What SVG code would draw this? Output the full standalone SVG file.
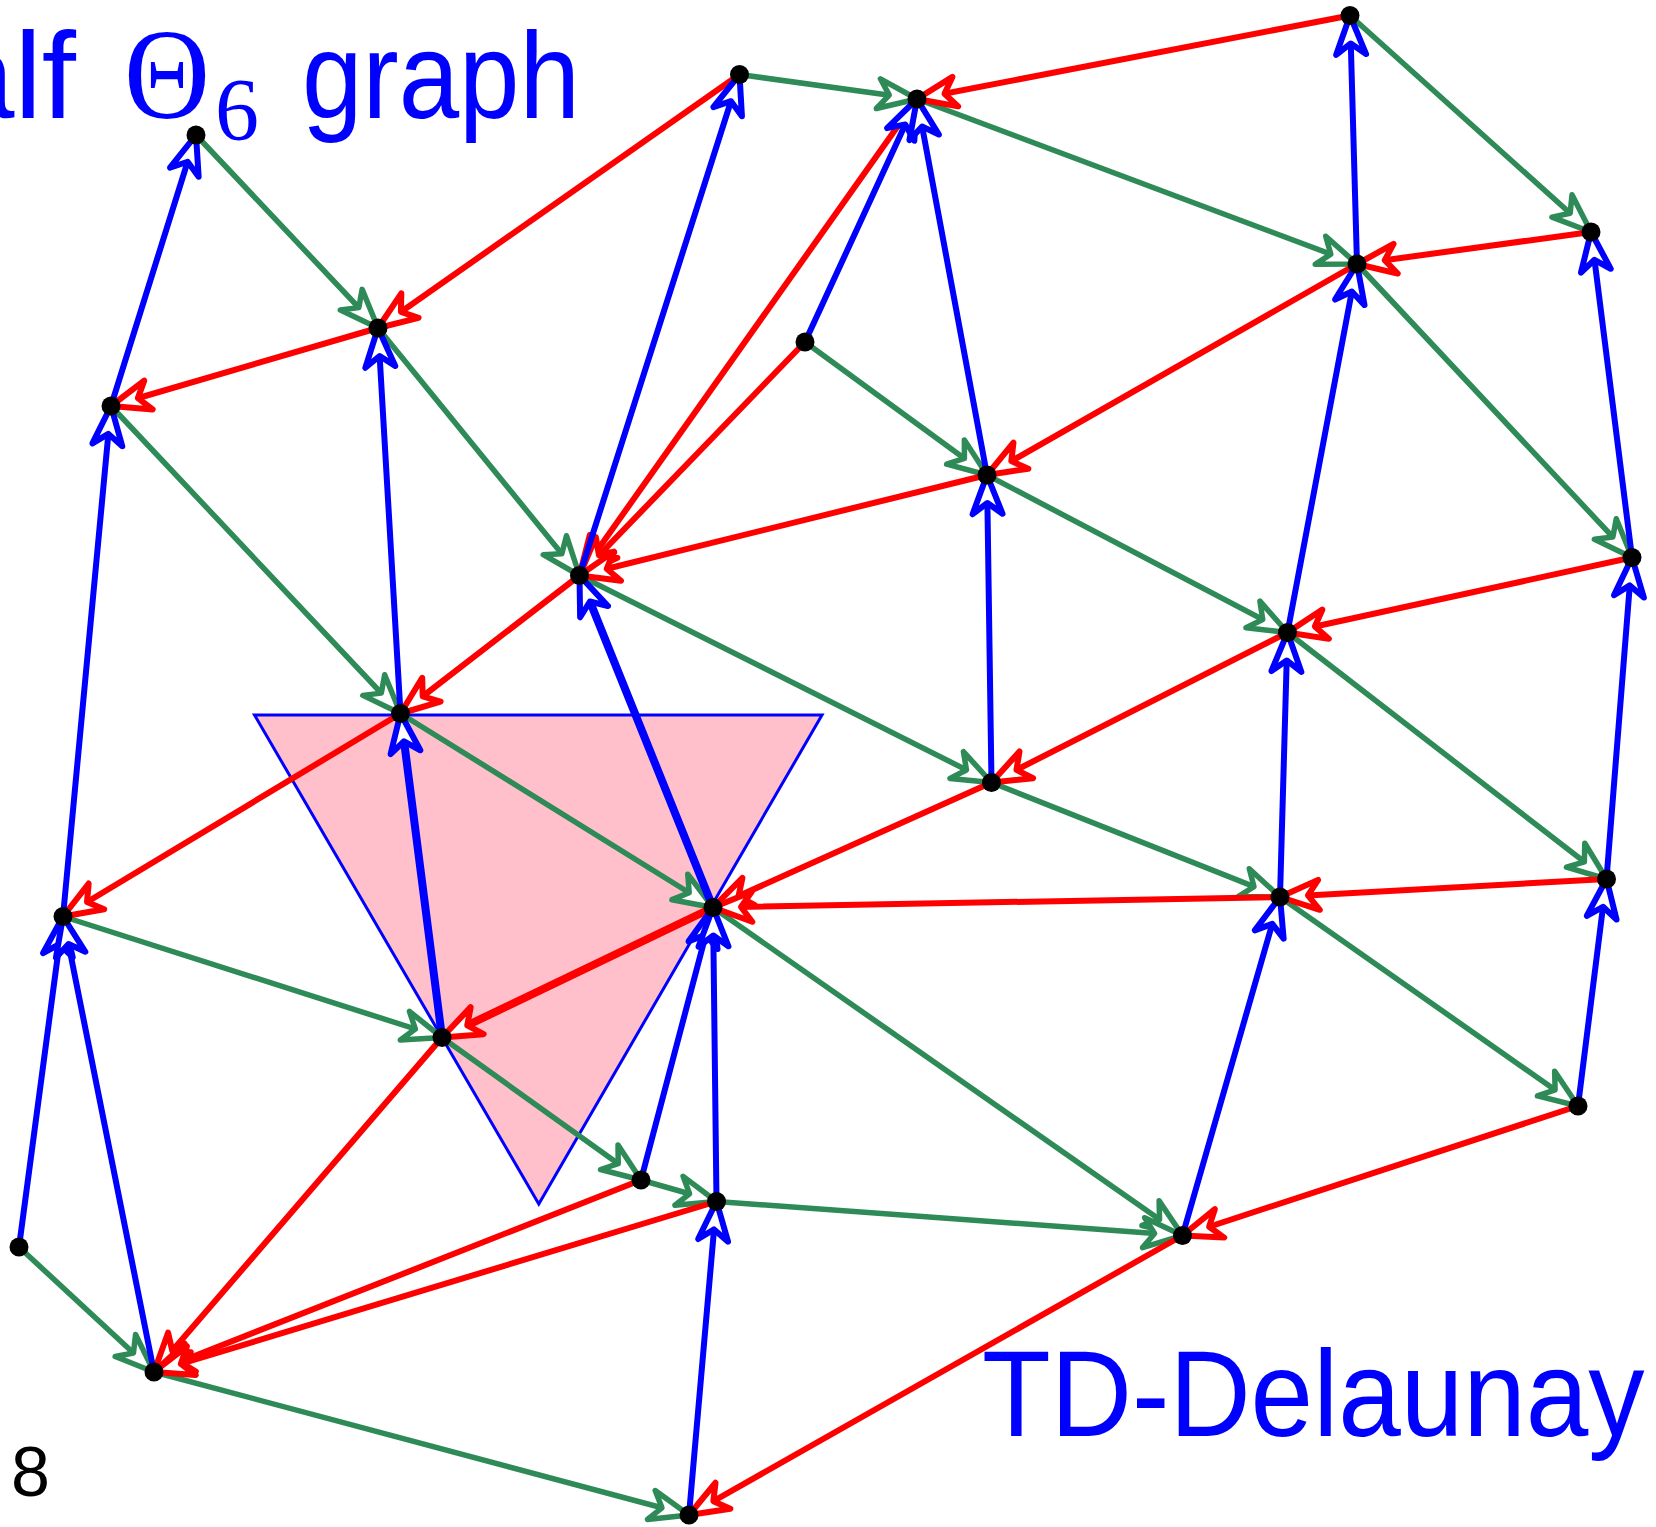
<svg xmlns="http://www.w3.org/2000/svg" width="1656" height="1527" viewBox="0 0 1656 1527">
<style>
.e{fill:none;stroke-linecap:round}
.g{stroke:#2E8B57;stroke-width:5.5;marker-end:url(#mg)}
.r{stroke:#FF0000;stroke-width:6;marker-end:url(#mr)}
.b{stroke:#0000FF;stroke-width:6;marker-end:url(#mb)}
.t{stroke-width:8}
.dot{fill:#000}
.lbl{font-family:"Liberation Sans",Arial,sans-serif;fill:#0000FF}
.math{font-family:"Liberation Serif","Times New Roman",serif;fill:#0000FF}
</style>
<defs>
<marker id="mg" markerUnits="userSpaceOnUse" orient="auto" markerWidth="70" markerHeight="50" viewBox="-55 -25 70 50" refX="0" refY="0" overflow="visible">
<path d="M-39,-15 L0,0 L-39,15 L-28,0 Z" fill="#fff" stroke="#2E8B57" stroke-width="5.5" stroke-linejoin="round"/>
</marker>
<marker id="mr" markerUnits="userSpaceOnUse" orient="auto" markerWidth="70" markerHeight="50" viewBox="-55 -25 70 50" refX="0" refY="0" overflow="visible">
<path d="M-39,-15 L0,0 L-39,15 L-28,0 Z" fill="#fff" stroke="#FF0000" stroke-width="6" stroke-linejoin="round"/>
</marker>
<marker id="mb" markerUnits="userSpaceOnUse" orient="auto" markerWidth="70" markerHeight="50" viewBox="-55 -25 70 50" refX="0" refY="0" overflow="visible">
<path d="M-39,-15 L0,0 L-39,15 L-28,0 Z" fill="#fff" stroke="#0000FF" stroke-width="6" stroke-linejoin="round"/>
</marker>
</defs>
<rect x="0" y="0" width="1656" height="1527" fill="#fff"/>
<polygon id="cone" points="254.5,715 822,715 538.8,1204" fill="#FFC0CB" stroke="#0000FF" stroke-width="3" stroke-linejoin="miter"/>
<g id="connectors" class="e">
<!-- green -->
<line class="e g" x1="196" y1="135" x2="378" y2="328"/>
<line class="e g" x1="378" y1="328" x2="579.5" y2="575.5"/>
<line class="e g" x1="739.5" y1="74.5" x2="917" y2="99"/>
<line class="e g" x1="917" y1="99" x2="1357" y2="264"/>
<line class="e g" x1="1350" y1="15.5" x2="1591" y2="232"/>
<line class="e g" x1="1357" y1="264" x2="1632" y2="557.5"/>
<line class="e g" x1="805" y1="342" x2="987" y2="475"/>
<line class="e g" x1="987" y1="475" x2="1287.5" y2="632.5"/>
<line class="e g" x1="579.5" y1="575.5" x2="991.5" y2="782.5"/>
<line class="e g" x1="111" y1="406" x2="400.5" y2="713.5"/>
<line class="e g" x1="400.5" y1="713.5" x2="713" y2="907.5"/>
<line class="e g" x1="1287.5" y1="632.5" x2="1606.5" y2="879"/>
<line class="e g" x1="991.5" y1="782.5" x2="1280" y2="897"/>
<line class="e g" x1="63" y1="916.5" x2="442" y2="1037.5"/>
<line class="e g" x1="442" y1="1037.5" x2="641" y2="1180"/>
<line class="e g" x1="641" y1="1180" x2="716.5" y2="1201.5"/>
<line class="e g" x1="713" y1="907.5" x2="1182.5" y2="1235.5"/>
<line class="e g" x1="716.5" y1="1201.5" x2="1182.5" y2="1235.5"/>
<line class="e g" x1="1280" y1="897" x2="1578" y2="1106"/>
<line class="e g" x1="19" y1="1247" x2="154" y2="1372"/>
<line class="e g" x1="154" y1="1372" x2="689" y2="1515"/>
<!-- red -->
<line class="e r" x1="739.5" y1="74.5" x2="378" y2="328"/>
<line class="e r" x1="378" y1="328" x2="111" y2="406"/>
<line class="e r" x1="1350" y1="15.5" x2="917" y2="99"/>
<line class="e r" x1="1591" y1="232" x2="1357" y2="264"/>
<line class="e r" x1="917" y1="99" x2="579.5" y2="575.5"/>
<line class="e r" x1="805" y1="342" x2="579.5" y2="575.5"/>
<line class="e r" x1="987" y1="475" x2="579.5" y2="575.5"/>
<line class="e r" x1="1357" y1="264" x2="987" y2="475"/>
<line class="e r" x1="579.5" y1="575.5" x2="400.5" y2="713.5"/>
<line class="e r" x1="1632" y1="557.5" x2="1287.5" y2="632.5"/>
<line class="e r" x1="1287.5" y1="632.5" x2="991.5" y2="782.5"/>
<line class="e r" x1="400.5" y1="713.5" x2="63" y2="916.5"/>
<line class="e r" x1="991.5" y1="782.5" x2="713" y2="907.5"/>
<line class="e r" x1="1280" y1="897" x2="713" y2="907.5"/>
<line class="e r" x1="1606.5" y1="879" x2="1280" y2="897"/>
<line class="e r t" x1="713" y1="907.5" x2="442" y2="1037.5"/>
<line class="e r" x1="442" y1="1037.5" x2="154" y2="1372"/>
<line class="e r" x1="641" y1="1180" x2="154" y2="1372"/>
<line class="e r" x1="716.5" y1="1201.5" x2="154" y2="1372"/>
<line class="e r" x1="1578" y1="1106" x2="1182.5" y2="1235.5"/>
<line class="e r" x1="1182.5" y1="1235.5" x2="689" y2="1515"/>
<!-- blue -->
<line class="e b" x1="111" y1="406" x2="196" y2="135"/>
<line class="e b" x1="63" y1="916.5" x2="111" y2="406"/>
<line class="e b" x1="400.5" y1="713.5" x2="378" y2="328"/>
<line class="e b" x1="579.5" y1="575.5" x2="739.5" y2="74.5"/>
<line class="e b" x1="805" y1="342" x2="917" y2="99"/>
<line class="e b" x1="987" y1="475" x2="917" y2="99"/>
<line class="e b" x1="1357" y1="264" x2="1350" y2="15.5"/>
<line class="e b" x1="1632" y1="557.5" x2="1591" y2="232"/>
<line class="e b" x1="1287.5" y1="632.5" x2="1357" y2="264"/>
<line class="e b" x1="991.5" y1="782.5" x2="987" y2="475"/>
<line class="e b t" x1="713" y1="907.5" x2="579.5" y2="575.5"/>
<line class="e b" x1="1280" y1="897" x2="1287.5" y2="632.5"/>
<line class="e b" x1="1606.5" y1="879" x2="1632" y2="557.5"/>
<line class="e b t" x1="442" y1="1037.5" x2="400.5" y2="713.5"/>
<line class="e b" x1="641" y1="1180" x2="713" y2="907.5"/>
<line class="e b" x1="716.5" y1="1201.5" x2="713" y2="907.5"/>
<line class="e b" x1="1182.5" y1="1235.5" x2="1280" y2="897"/>
<line class="e b" x1="1578" y1="1106" x2="1606.5" y2="879"/>
<line class="e b" x1="19" y1="1247" x2="63" y2="916.5"/>
<line class="e b" x1="154" y1="1372" x2="63" y2="916.5"/>
<line class="e b" x1="689" y1="1515" x2="716.5" y2="1201.5"/>
</g>
<g id="n-A"><circle class="dot" cx="196" cy="135" r="9.5"/></g>
<g id="n-B"><circle class="dot" cx="111" cy="406" r="9.5"/></g>
<g id="n-C"><circle class="dot" cx="378" cy="328" r="9.5"/></g>
<g id="n-D"><circle class="dot" cx="739.5" cy="74.5" r="9.5"/></g>
<g id="n-E"><circle class="dot" cx="917" cy="99" r="9.5"/></g>
<g id="n-F"><circle class="dot" cx="1350" cy="15.5" r="9.5"/></g>
<g id="n-G"><circle class="dot" cx="1591" cy="232" r="9.5"/></g>
<g id="n-H"><circle class="dot" cx="1357" cy="264" r="9.5"/></g>
<g id="n-I"><circle class="dot" cx="805" cy="342" r="9.5"/></g>
<g id="n-J"><circle class="dot" cx="987" cy="475" r="9.5"/></g>
<g id="n-K"><circle class="dot" cx="579.5" cy="575.5" r="9.5"/></g>
<g id="n-L"><circle class="dot" cx="1632" cy="557.5" r="9.5"/></g>
<g id="n-M"><circle class="dot" cx="1287.5" cy="632.5" r="9.5"/></g>
<g id="n-N"><circle class="dot" cx="400.5" cy="713.5" r="9.5"/></g>
<g id="n-O"><circle class="dot" cx="991.5" cy="782.5" r="9.5"/></g>
<g id="n-P"><circle class="dot" cx="63" cy="916.5" r="9.5"/></g>
<g id="n-Q"><circle class="dot" cx="713" cy="907.5" r="9.5"/></g>
<g id="n-R"><circle class="dot" cx="1280" cy="897" r="9.5"/></g>
<g id="n-S"><circle class="dot" cx="1606.5" cy="879" r="9.5"/></g>
<g id="n-T"><circle class="dot" cx="442" cy="1037.5" r="9.5"/></g>
<g id="n-X"><circle class="dot" cx="1578" cy="1106" r="9.5"/></g>
<g id="n-U"><circle class="dot" cx="641" cy="1180" r="9.5"/></g>
<g id="n-V"><circle class="dot" cx="716.5" cy="1201.5" r="9.5"/></g>
<g id="n-W"><circle class="dot" cx="1182.5" cy="1235.5" r="9.5"/></g>
<g id="n-Y"><circle class="dot" cx="19" cy="1247" r="9.5"/></g>
<g id="n-Z"><circle class="dot" cx="154" cy="1372" r="9.5"/></g>
<g id="n-AA"><circle class="dot" cx="689" cy="1515" r="9.5"/></g>
<g id="title">
<text class="lbl" x="-54" y="118" font-size="123">alf</text>
<text class="math" x="124" y="118" font-size="130" textLength="86" lengthAdjust="spacingAndGlyphs">Θ</text>
<text class="math" x="215" y="139" font-size="88">6</text>
<text class="lbl" x="302" y="118" font-size="123" textLength="278" lengthAdjust="spacingAndGlyphs">graph</text>
</g>
<text id="label-td" class="lbl" transform="translate(982,1436) scale(0.922,1)" x="0" y="0" font-size="122">TD-Delaunay</text>
<text id="page" x="11" y="1496" font-size="70" font-family="'Liberation Sans',Arial,sans-serif" fill="#000">8</text>
</svg>
